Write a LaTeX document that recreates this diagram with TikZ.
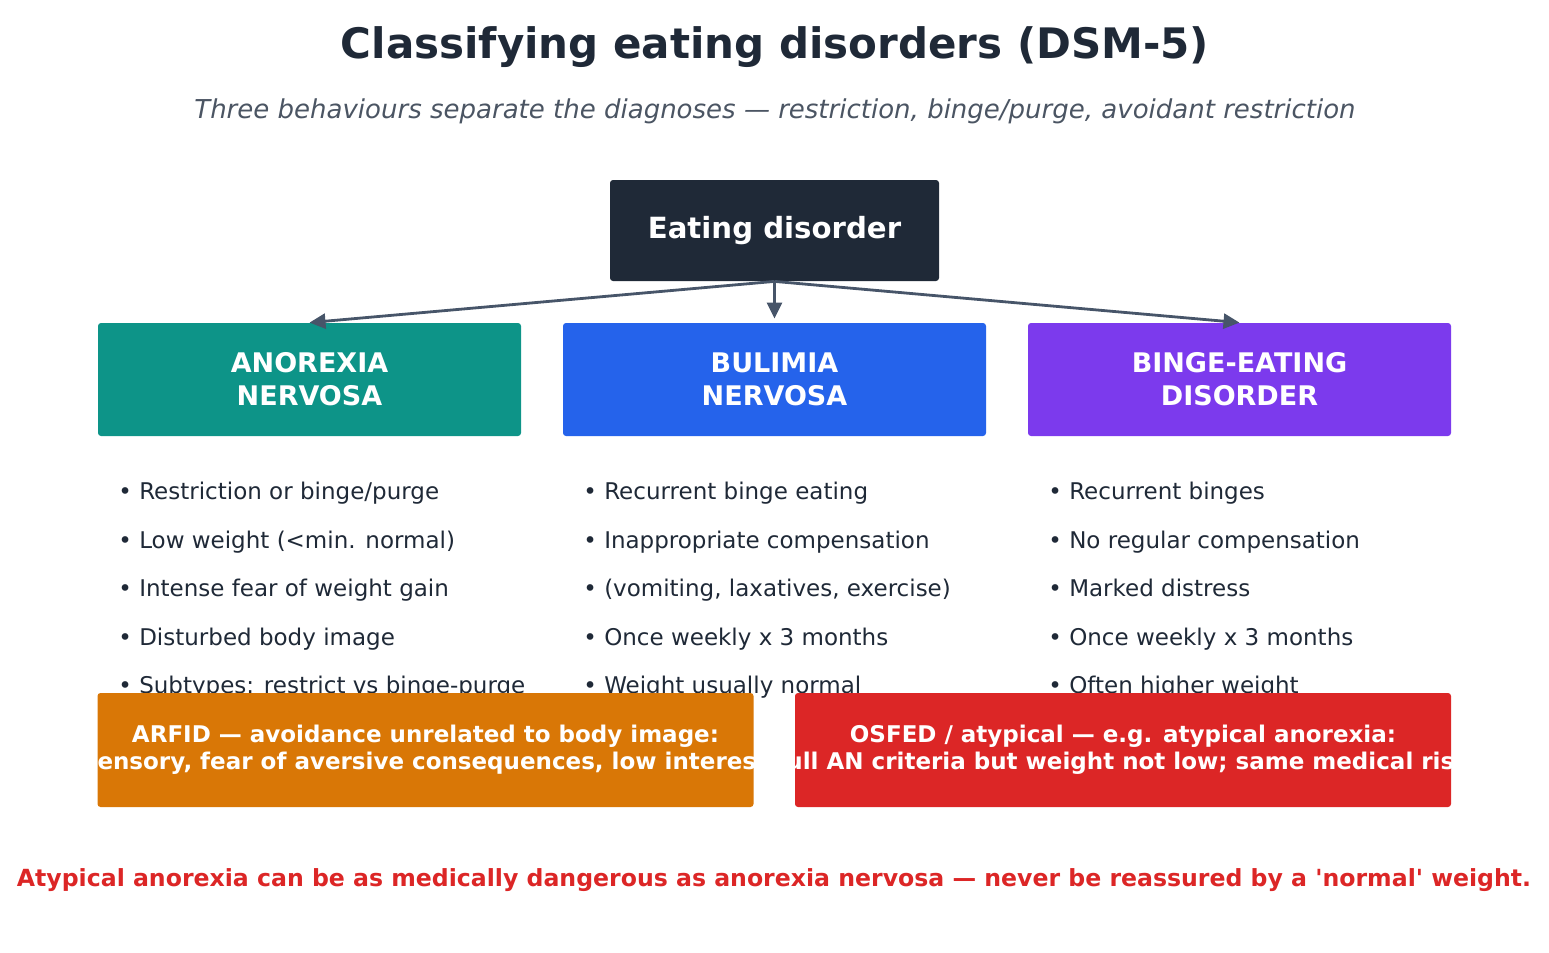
\documentclass[tikz,border=0pt]{standalone}
\usepackage{fontspec}
\setmainfont{DejaVu Sans}
\usetikzlibrary{arrows.meta}

\definecolor{ink}{HTML}{1F2937}
\definecolor{subgray}{HTML}{4B5563}
\definecolor{linkgray}{HTML}{475569}
\definecolor{anteal}{HTML}{0D9488}
\definecolor{bnblue}{HTML}{2563EB}
\definecolor{bedpurple}{HTML}{7C3AED}
\definecolor{arfidorange}{HTML}{D97706}
\definecolor{osfedred}{HTML}{DC2626}

\begin{document}
\begin{tikzpicture}[x=0.5pt, y=-0.5pt,
    box/.style={rounded corners=1.5pt, inner sep=0pt, text=white, align=center},
    catbox/.style={box, minimum width=211.5pt, minimum height=56.5pt,
        font=\fontsize{13.5}{16.5}\selectfont\bfseries},
    widebox/.style={box, minimum width=328pt, minimum height=57pt},
    widetext/.style={text=white, align=center, inner sep=0pt,
        font=\fontsize{11.5}{13.5}\selectfont\bfseries},
    bullets/.style={anchor=north west, inner sep=0pt, align=left, text=ink,
        font=\fontsize{11.5}{24.25}\selectfont},
    link/.style={-{Triangle[length=8pt, width=7.5pt]}, draw=linkgray, line width=1.4pt}]
    \useasboundingbox (0,0) rectangle (1549,953);

    % Titel
    \node[text=ink, font=\fontsize{21}{25}\selectfont\bfseries] (title) at (775, 47) {Classifying eating disorders (DSM-5)};
    \node[text=subgray, font=\fontsize{13}{16}\selectfont\itshape] (subtitle) at (775, 111)
        {Three behaviours separate the diagnoses --- restriction, binge/purge, avoidant restriction};

    % Wurzel
    \node[box, fill=ink, minimum width=164.5pt, minimum height=50.5pt,
        font=\fontsize{14.6}{17}\selectfont\bfseries] (root) at (774.5, 230.5) {Eating disorder};

    % Hauptdiagnosen
    \node[catbox, fill=anteal] (AN) at (309.5, 379.5) {ANOREXIA\\NERVOSA};
    \node[catbox, fill=bnblue] (BN) at (774.5, 379.5) {BULIMIA\\NERVOSA};
    \node[catbox, fill=bedpurple] (BED) at (1239.5, 379.5) {BINGE-EATING\\DISORDER};

    % Pfeile von der Wurzel
    \draw[link] (root.south) -- (AN.north);
    \draw[link, shorten >=2pt] (root.south) -- (BN.north);
    \draw[link] (root.south) -- (BED.north);

    % Kriterien
    \node[bullets] (ANlist) at (118, 482) {• Restriction or binge/purge\\• Low weight (<min. normal)\\• Intense fear of weight gain\\• Disturbed body image\\• Subtypes: restrict vs binge-purge};
    \node[bullets] (BNlist) at (583, 482) {• Recurrent binge eating\\• Inappropriate compensation\\• (vomiting, laxatives, exercise)\\• Once weekly x 3 months\\• Weight usually normal};
    \node[bullets] (BEDlist) at (1048, 482) {• Recurrent binges\\• No regular compensation\\• Marked distress\\• Once weekly x 3 months\\• Often higher weight};

    % weitere Formen
    \node[widebox, fill=arfidorange] (ARFID) at (425.5, 750) {};
    \node[widetext] (ARFIDtext) at (ARFID) {ARFID --- avoidance unrelated to body image:\\sensory, fear of aversive consequences, low interest};
    \node[widebox, fill=osfedred] (OSFED) at (1123, 750) {};
    \node[widetext] (OSFEDtext) at (OSFED) {OSFED / atypical --- e.g. atypical anorexia:\\full AN criteria but weight not low; same medical risk};

    % Hinweis
    \node[text=osfedred, font=\fontsize{11.8}{14}\selectfont\bfseries] (note) at (774, 880)
        {Atypical anorexia can be as medically dangerous as anorexia nervosa --- never be reassured by a \textquotesingle normal\textquotesingle{} weight.};
\end{tikzpicture}
\end{document}
